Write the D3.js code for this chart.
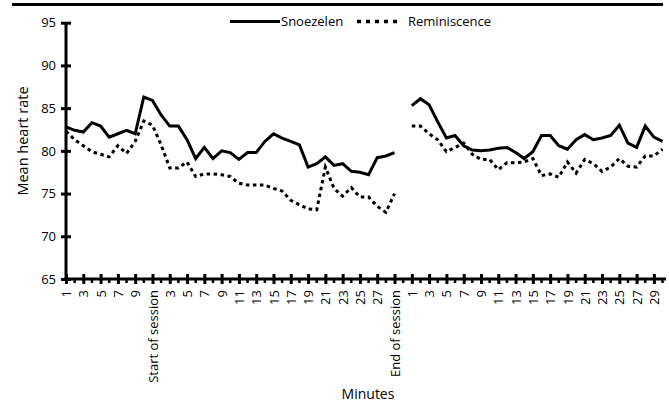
<!DOCTYPE html>
<html>
<head>
<meta charset="utf-8">
<script src="https://cdn.jsdelivr.net/npm/d3@7"></script>
<style>
  body { margin: 0; background: #fff; }
  text { font-family: "Open Sans", sans-serif; fill: #000; }
</style>
</head>
<body>
<svg width="669" height="408"></svg>
<script>
// categories: 10 minutes before, the session, a gap, 30 minutes after
var preLabels = ['1','2','3','4','5','6','7','8','9','10'];
var sessionLabels = ['Start of session','2','3','4','5','6','7','8','9','10','11','12','13','14','15',
  '16','17','18','19','20','21','22','23','24','25','26','27','28','End of session'];
var gapLabels = [''];
var postLabels = ['1','2','3','4','5','6','7','8','9','10','11','12','13','14','15',
  '16','17','18','19','20','21','22','23','24','25','26','27','28','29','30'];
var categories = preLabels.concat(sessionLabels, gapLabels, postLabels);

var snoezelen = [
  82.8, 82.4, 82.2, 83.3, 82.9, 81.6, 82.0, 82.4, 82.0, 86.3,
  85.9, 84.2, 82.9, 82.9, 81.3, 79.1, 80.4, 79.1, 80.0, 79.8,
  79.0, 79.8, 79.8, 81.1, 82.0, 81.5, 81.1, 80.7, 78.1, 78.5,
  79.3, 78.3, 78.5, 77.6, 77.5, 77.2, 79.2, 79.4, 79.8,
  null,
  85.3, 86.1, 85.4, 83.4, 81.5, 81.8, 80.6, 80.1, 80.0, 80.1,
  80.3, 80.4, 79.8, 79.1, 79.9, 81.8, 81.8, 80.6, 80.2, 81.3,
  81.9, 81.3, 81.5, 81.8, 83.0, 80.9, 80.4, 82.9, 81.6, 81.1
];
var reminiscence = [
  82.3, 81.3, 80.6, 79.9, 79.6, 79.3, 80.6, 79.7, 81.1, 83.5,
  83.0, 80.7, 78.0, 78.0, 78.7, 77.0, 77.3, 77.3, 77.2, 77.0,
  76.2, 76.0, 76.0, 76.0, 75.6, 75.3, 74.2, 73.7, 73.2, 73.1,
  78.1, 75.6, 74.7, 75.7, 74.6, 74.6, 73.5, 72.8, 75.0,
  null,
  82.9, 82.9, 82.0, 81.3, 79.9, 80.4, 80.9, 79.6, 79.0, 79.0,
  77.8, 78.6, 78.6, 78.7, 79.1, 77.1, 77.3, 76.9, 78.7, 77.4,
  79.0, 78.5, 77.6, 78.1, 79.1, 78.2, 78.1, 79.4, 79.4, 80.2
];
var yTicks = [65, 70, 75, 80, 85, 90, 95];

var svg = d3.select('svg');
var plotLeft = 66, plotRight = 666, plotTop = 22.7, plotBottom = 279;

var x = d3.scaleLinear().domain([0, 69.4]).range([plotLeft, plotRight]);
var y = d3.scaleLinear().domain([65, 95]).range([plotBottom, plotTop]);

// rule across the top
svg.append('line')
  .attr('x1', 12).attr('x2', 663)
  .attr('y1', 4.5).attr('y2', 4.5)
  .attr('stroke', '#000').attr('stroke-width', 2.8);

// y axis
var yAxis = svg.append('g')
  .attr('transform', 'translate(' + plotLeft + ',0)')
  .call(d3.axisLeft(y).tickValues(yTicks).tickSizeOuter(0).tickPadding(0));
yAxis.select('.domain').remove();
yAxis.selectAll('.tick line').attr('x1', -5).attr('x2', 5)
  .attr('stroke-width', 3);
yAxis.selectAll('.tick text').attr('x', -10)
  .style('font-size', '13px').style('font-family', '"Open Sans", sans-serif');
yAxis.append('line')
  .attr('y1', plotTop).attr('y2', plotBottom + 1.5)
  .attr('stroke', '#000').attr('stroke-width', 3);

// x axis
var evenIdx = d3.range(0, categories.length, 2);
var oddIdx = d3.range(1, categories.length, 2);
var xAxis = svg.append('g')
  .attr('transform', 'translate(0,' + plotBottom + ')')
  .call(d3.axisBottom(x).tickValues(evenIdx)
    .tickFormat(function(i) { return categories[i]; })
    .tickSizeOuter(0));
xAxis.select('.domain').remove();
xAxis.selectAll('.tick line').attr('y1', -5).attr('y2', 5)
  .attr('stroke-width', 3);
xAxis.selectAll('.tick text')
  .attr('transform', 'rotate(-90)')
  .attr('x', -11).attr('y', 0).attr('dy', '0.35em')
  .style('text-anchor', 'end')
  .style('font-size', '13px').style('font-family', '"Open Sans", sans-serif');
xAxis.selectAll('.minor')
  .data(oddIdx)
  .enter()
  .append('line')
  .attr('class', 'minor')
  .attr('x1', function(d) { return x(d); })
  .attr('x2', function(d) { return x(d); })
  .attr('y1', 0).attr('y2', 4)
  .attr('stroke', '#000').attr('stroke-width', 2.5);
xAxis.append('line')
  .attr('x1', plotLeft - 1.5).attr('x2', plotRight)
  .attr('stroke', '#000').attr('stroke-width', 3);

// lines
var line = d3.line()
  .defined(function(d) { return d != null; })
  .x(function(d, i) { return x(i); })
  .y(function(d) { return y(d); });

svg.append('path')
  .datum(snoezelen)
  .attr('d', line)
  .attr('fill', 'none')
  .attr('stroke', '#000')
  .attr('stroke-width', 3)
  .attr('stroke-linejoin', 'miter');

svg.append('path')
  .datum(reminiscence)
  .attr('d', line)
  .attr('fill', 'none')
  .attr('stroke', '#000')
  .attr('stroke-width', 3)
  .attr('stroke-dasharray', '3.5,3.5');

// legend
svg.append('line')
  .attr('x1', 230).attr('x2', 280)
  .attr('y1', 21.5).attr('y2', 21.5)
  .attr('stroke', '#000').attr('stroke-width', 3);
svg.append('text')
  .attr('x', 281).attr('y', 26)
  .style('font-size', '13px')
  .text('Snoezelen');
svg.append('line')
  .attr('x1', 357).attr('x2', 401)
  .attr('y1', 21.5).attr('y2', 21.5)
  .attr('stroke', '#000').attr('stroke-width', 3.5)
  .attr('stroke-dasharray', '4,5');
svg.append('text')
  .attr('x', 408).attr('y', 26)
  .style('font-size', '13px')
  .text('Reminiscence');

// axis titles
svg.append('text')
  .attr('transform', 'rotate(-90)')
  .attr('x', -141)
  .attr('y', 28)
  .attr('text-anchor', 'middle')
  .style('font-size', '14.5px')
  .text('Mean heart rate');

svg.append('text')
  .attr('x', 368)
  .attr('y', 399)
  .attr('text-anchor', 'middle')
  .style('font-size', '14px')
  .text('Minutes');
</script>
</body>
</html>
